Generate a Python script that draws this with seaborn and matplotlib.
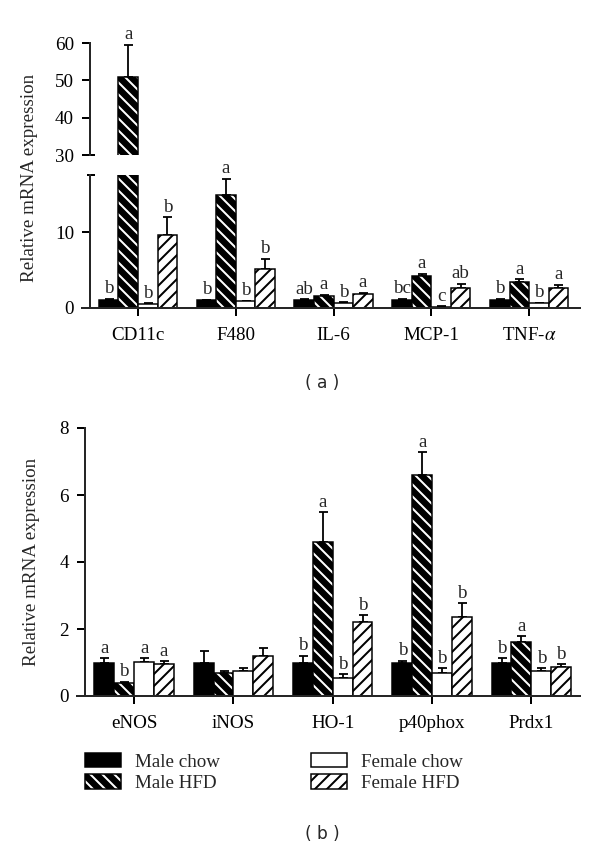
import numpy as np
import pandas as pd
import matplotlib
matplotlib.use("Agg")
import matplotlib.pyplot as plt
from matplotlib.patches import Patch
import seaborn as sns

# ---------------- data ----------------
groups = ["Male chow", "Male HFD", "Female chow", "Female HFD"]

genes_a = ["CD11c", "F480", "IL-6", "MCP-1", "TNF-$\\alpha$"]
male_chow_a = [1.0, 1.0, 1.0, 1.0, 1.0]
male_chow_a_err = [0.2, 0.1, 0.15, 0.2, 0.2]
male_hfd_a = [51.0, 15.0, 1.6, 4.2, 3.5]
male_hfd_a_err = [8.5, 2.1, 0.15, 0.3, 0.3]
female_chow_a = [0.5, 0.9, 0.6, 0.15, 0.6]
female_chow_a_err = [0.1, 0.08, 0.15, 0.05, 0.1]
female_hfd_a = [9.6, 5.1, 1.8, 2.7, 2.7]
female_hfd_a_err = [2.4, 1.4, 0.2, 0.5, 0.4]
letters_a = [["b", "b", "ab", "bc", "b"],
             ["a", "a", "a", "a", "a"],
             ["b", "b", "b", "c", "b"],
             ["b", "b", "a", "ab", "a"]]

genes_b = ["eNOS", "iNOS", "HO-1", "p40phox", "Prdx1"]
male_chow_b = [1.0, 1.0, 1.0, 1.0, 1.0]
male_chow_b_err = [0.13, 0.33, 0.2, 0.05, 0.12]
male_hfd_b = [0.38, 0.68, 4.6, 6.6, 1.62]
male_hfd_b_err = [0.04, 0.07, 0.88, 0.67, 0.17]
female_chow_b = [1.02, 0.76, 0.55, 0.70, 0.76]
female_chow_b_err = [0.1, 0.07, 0.1, 0.13, 0.07]
female_hfd_b = [0.95, 1.19, 2.22, 2.37, 0.87]
female_hfd_b_err = [0.08, 0.23, 0.19, 0.4, 0.08]
letters_b = [["a", "", "b", "b", "b"],
             ["b", "", "a", "a", "a"],
             ["a", "", "b", "b", "b"],
             ["a", "", "b", "b", "b"]]

ylabel = "Relative mRNA expression"

# ---------------- style ----------------
sns.set_theme(style="ticks")
plt.rcParams["font.family"] = ["Liberation Serif", "DejaVu Serif"]
plt.rcParams["mathtext.fontset"] = "stix"
plt.rcParams["hatch.linewidth"] = 2.0
FS = 19

pal = {"Male chow": "black", "Male HFD": "black",
       "Female chow": "white", "Female HFD": "white"}
hatches = {"Male HFD": "\\\\", "Female HFD": "//"}
hatch_cols = {"Male HFD": (1, 1, 1, 1), "Female HFD": (0, 0, 0, 1)}


def set_hatch_color(p, c):
    if hasattr(p, "set_hatchcolor"):
        p.set_hatchcolor(c)
    else:
        p._hatch_color = c


def make_df(genes, vals):
    rows = []
    for g, v in zip(groups, vals):
        for gene, x in zip(genes, v):
            rows.append({"gene": gene, "group": g, "value": x})
    return pd.DataFrame(rows)


W, H = 600, 848
fig = plt.figure(figsize=(W / 72, H / 72), dpi=72)


def fax(x0, y0, x1, y1):
    return fig.add_axes([x0 / W, 1 - y1 / H, (x1 - x0) / W, (y1 - y0) / H])


def draw(ax, genes, vals, errs, letters, ylim, yticks, xlim, spine_px, width_px,
         show_x=True, only_above=None):
    df = make_df(genes, vals)
    sns.barplot(data=df, x="gene", y="value", hue="group", hue_order=groups,
                order=genes, palette=pal, edgecolor="black", linewidth=1.5,
                width=0.8, errorbar=None, legend=False, saturation=1, ax=ax)
    bar_conts = list(ax.containers)
    for gi, cont in enumerate(bar_conts):
        g = groups[gi]
        xs, hs = [], []
        for ci, p in enumerate(cont):
            if g in hatches:
                p.set_hatch(hatches[g])
                set_hatch_color(p, hatch_cols[g])
            xs.append(p.get_x() + p.get_width() / 2)
            hs.append(p.get_height())
        e = np.array(errs[gi])
        ax.errorbar(xs, hs, yerr=[np.zeros_like(e), e], fmt="none",
                    ecolor="black", elinewidth=1.8, capsize=4.5, capthick=1.8,
                    zorder=0.5)
        for x, h, ee, lab in zip(xs, hs, e, letters[gi]):
            top = h + ee
            if not lab:
                continue
            if top > ylim[1]:
                continue
            if only_above is not None and h < only_above:
                continue
            ax.annotate(lab, (x, top), xytext=(0, 1.5), textcoords="offset points",
                        ha="center", va="bottom", fontsize=FS)
    ax.set_ylim(*ylim)
    ax.set_xlim(*xlim)
    ax.set_yticks(yticks)
    ax.set_xlabel("")
    ax.set_ylabel("")
    for s in ["top", "right"]:
        ax.spines[s].set_visible(False)
    ax.spines["left"].set_position(("axes", spine_px / width_px))
    ax.spines["left"].set_linewidth(2)
    ax.spines["bottom"].set_linewidth(2)
    ax.tick_params(axis="y", direction="out", length=8, width=2, pad=8,
                   labelsize=FS, colors="black")
    ax.tick_params(axis="x", direction="out", length=8, width=2, pad=11,
                   labelsize=FS, colors="black")
    if not show_x:
        ax.spines["bottom"].set_visible(False)
        ax.tick_params(axis="x", length=0, labelbottom=False)
    ax.set_facecolor("none")


# --- panel (a) ---
ax_up = fax(82, 43, 580, 155)
ax_lo = fax(82, 175, 580, 308)
vals_a = [male_chow_a, male_hfd_a, female_chow_a, female_hfd_a]
errs_a = [male_chow_a_err, male_hfd_a_err, female_chow_a_err, female_hfd_a_err]
xlim_a = (-0.573, 4.52)
draw(ax_up, genes_a, vals_a, errs_a, letters_a, (30, 60), [30, 40, 50, 60],
     xlim_a, 8, 498, show_x=False, only_above=30)
draw(ax_lo, genes_a, vals_a, errs_a, letters_a, (0, 17.6), [0, 10],
     xlim_a, 8, 498)
# break marks
ax_up.plot([8 / 498, 13 / 498], [0, 0], transform=ax_up.transAxes, color="black",
           lw=2, clip_on=False, solid_capstyle="butt")
ax_lo.plot([5 / 498, 13 / 498], [1, 1], transform=ax_lo.transAxes, color="black",
           lw=2, clip_on=False, solid_capstyle="butt")

# --- panel (b) ---
ax_b = fax(77, 428, 580, 696)
vals_b = [male_chow_b, male_hfd_b, female_chow_b, female_hfd_b]
errs_b = [male_chow_b_err, male_hfd_b_err, female_chow_b_err, female_hfd_b_err]
draw(ax_b, genes_b, vals_b, errs_b, letters_b, (0, 8), [0, 2, 4, 6, 8],
     (-0.576, 4.49), 8, 503)

# y labels
fig.text(30 / W, 1 - 178 / H, ylabel, rotation=90, ha="center", va="center",
         fontsize=FS)
fig.text(32 / W, 1 - 562 / H, ylabel, rotation=90, ha="center", va="center",
         fontsize=FS)

# panel labels
fig.text(322 / W, 1 - 383 / H, "( a )", ha="center", va="center", fontsize=17,
         family="DejaVu Sans")
fig.text(322 / W, 1 - 834 / H, "( b )", ha="center", va="center", fontsize=17,
         family="DejaVu Sans")

# legend
handles = []
for g in groups:
    p = Patch(facecolor=pal[g], edgecolor="black", linewidth=1.5,
              hatch=hatches.get(g, None))
    if g in hatches:
        set_hatch_color(p, hatch_cols[g])
    handles.append(p)
fig.legend(handles, groups, ncol=2, loc="upper left",
           bbox_to_anchor=(85 / W, 1 - 753 / H), frameon=False, fontsize=FS,
           handlelength=36 / FS, handleheight=14.5 / FS, handletextpad=0.74,
           columnspacing=4.8, labelspacing=0.2, borderpad=0, borderaxespad=0)

fig.savefig("out.png", dpi=72)
